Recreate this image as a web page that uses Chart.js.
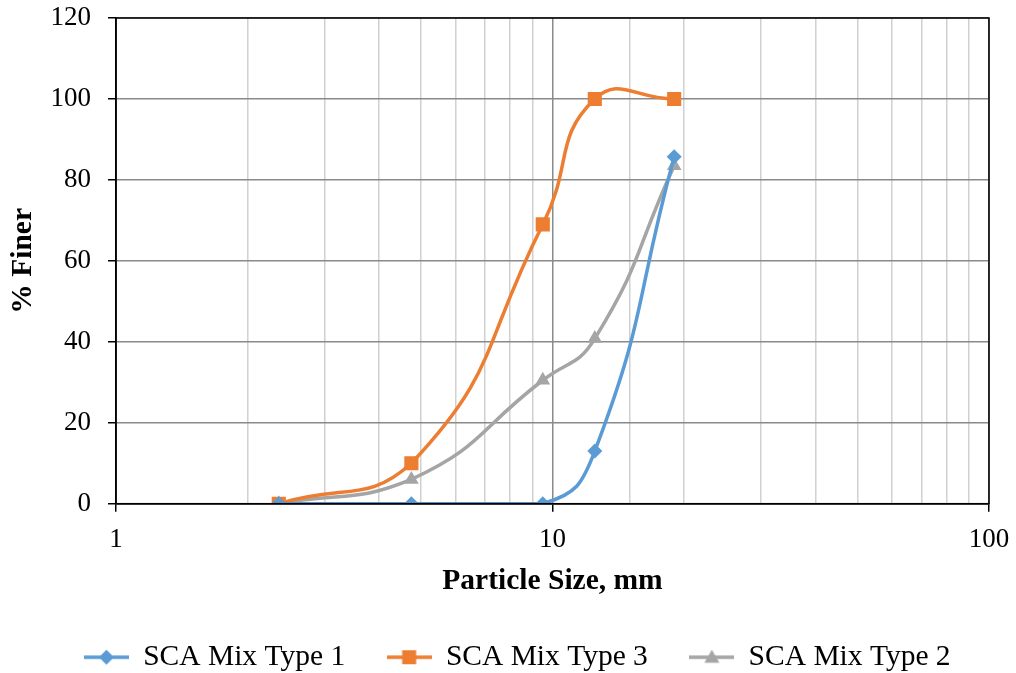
<!DOCTYPE html>
<html>
<head>
<meta charset="utf-8">
<script src="https://cdn.jsdelivr.net/npm/chart.js@4.4.1/dist/chart.umd.min.js"></script>
<style>
  html, body { margin: 0; padding: 0; background: #fff; }
  #wrap { width: 1016px; height: 673px; }
</style>
</head>
<body>
<div id="wrap"><canvas id="chart"></canvas></div>
<script>
// sieve sizes (mm) and % finer for each mix
const sizes = [2.36, 4.75, 9.5, 12.5, 19];
const mixType1 = [0, 0, 0, 13, 85.7];
const mixType3 = [0, 10, 69, 100, 100];
const mixType2 = [0, 6, 30.5, 40.8, 83.5];
const yTicks = [0, 20, 40, 60, 80, 100, 120];

const FONT = "'Liberation Serif', 'Times New Roman', Times, serif";
const isMajor = (v) => Math.abs(Math.log10(v) - Math.round(Math.log10(v))) < 1e-9;

const toPoints = (vals) => vals.map((v, i) => ({ x: sizes[i], y: v }));

// legend sample: short line with the marker in the middle
const legendSample = (color, style) => {
  const c = document.createElement('canvas');
  c.width = 45; c.height = 20;
  const ctx = c.getContext('2d');
  ctx.strokeStyle = color;
  ctx.lineWidth = 3.5;
  ctx.beginPath(); ctx.moveTo(0, 10); ctx.lineTo(45, 10); ctx.stroke();
  ctx.fillStyle = color;
  ctx.beginPath();
  if (style === 'rectRot') {
    ctx.moveTo(22.5, 2.5); ctx.lineTo(30, 10); ctx.lineTo(22.5, 17.5); ctx.lineTo(15, 10);
  } else if (style === 'rect') {
    ctx.rect(15.5, 3, 14, 14);
  } else {
    ctx.moveTo(22.5, 2.5); ctx.lineTo(30, 15.5); ctx.lineTo(15, 15.5);
  }
  ctx.closePath(); ctx.fill();
  return c;
};

const series = [
  { label: 'SCA Mix Type 1', data: mixType1, color: '#5B9BD5', style: 'rectRot', r: 7.5 },
  { label: 'SCA Mix Type 3', data: mixType3, color: '#ED7D31', style: 'rect', r: 10 },
  { label: 'SCA Mix Type 2', data: mixType2, color: '#A5A5A5', style: 'triangle', r: 8.5 },
];

// black frame around the plot area, legend nudged right like the original
const frame = {
  id: 'frame',
  afterLayout(chart) {
    chart.legend.left += 23;
    chart.legend.right += 23;
  },
  afterDatasetsDraw(chart) {
    const { ctx, chartArea: a } = chart;
    ctx.save();
    ctx.strokeStyle = '#000';
    ctx.lineWidth = 1.5;
    ctx.strokeRect(a.left, a.top, a.right - a.left, a.bottom - a.top);
    ctx.restore();
  }
};

new Chart(document.getElementById('chart'), {
  type: 'line',
  data: {
    datasets: series.map(s => ({
      label: s.label,
      data: toPoints(s.data),
      borderColor: s.color,
      backgroundColor: s.color,
      borderWidth: 3.5,
      pointStyle: s.style,
      pointRadius: s.r,
      pointHoverRadius: s.r,
      pointBorderWidth: 0,
      tension: 0.5,
      fill: false,
    }))
  },
  plugins: [frame],
  options: {
    responsive: true,
    maintainAspectRatio: false,
    animation: false,
    layout: { padding: { left: 0, right: 27, top: 18, bottom: -9 } },
    plugins: {
      tooltip: { enabled: false },
      legend: {
        position: 'bottom',
        labels: {
          usePointStyle: true,
          pointStyleWidth: 44,
          padding: 42,
          color: '#000',
          font: { family: FONT, size: 29.5 },
          generateLabels: (chart) => {
            const items = Chart.defaults.plugins.legend.labels.generateLabels(chart);
            return items.map((it, i) => ({ ...it, pointStyle: legendSample(series[i].color, series[i].style) }));
          }
        }
      }
    },
    scales: {
      x: {
        type: 'logarithmic',
        min: 1,
        max: 100,
        afterFit: (axis) => { axis.paddingRight = 0; },
        border: { display: true, color: '#000', width: 1.5 },
        grid: {
          color: (ctx) => ctx.tick && isMajor(ctx.tick.value) ? '#8a8a8a' : '#d0d0d0',
          tickColor: (ctx) => ctx.tick && isMajor(ctx.tick.value) ? '#000' : 'rgba(0,0,0,0)',
          tickLength: 8,
          lineWidth: 1.5,
        },
        ticks: {
          autoSkip: false,
          maxRotation: 0,
          padding: 12,
          color: '#000',
          font: { family: FONT, size: 27 },
          callback: (v) => isMajor(v) ? String(v) : '',
        },
        title: {
          display: true,
          text: 'Particle Size, mm',
          color: '#000',
          font: { family: FONT, size: 29.5, weight: 'bold' },
          padding: { top: -4, bottom: 1 },
        }
      },
      y: {
        min: 0,
        max: 120,
        afterFit: (axis) => { axis.paddingTop = 0; },
        border: { display: true, color: '#000', width: 1.5 },
        grid: { color: '#8a8a8a', tickColor: '#000', tickLength: 8, lineWidth: 1.5 },
        afterBuildTicks: (axis) => { axis.ticks = yTicks.map(v => ({ value: v })); },
        ticks: {
          padding: 17,
          color: '#000',
          font: { family: FONT, size: 27 },
        },
        title: {
          display: true,
          text: '% Finer',
          color: '#000',
          font: { family: FONT, size: 29.5, weight: 'bold', lineHeight: 1 },
          padding: { top: 9, bottom: -5 },
        }
      }
    }
  }
});
</script>
</body>
</html>
